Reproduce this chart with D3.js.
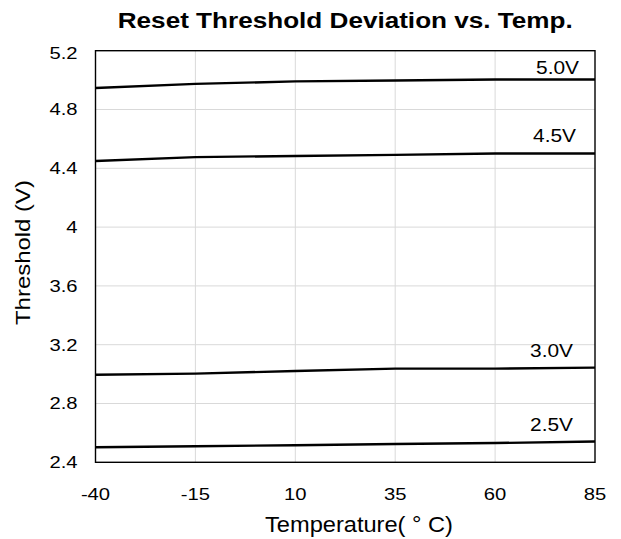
<!DOCTYPE html>
<html>
<head>
<meta charset="utf-8">
<script src="https://cdn.jsdelivr.net/npm/d3@7"></script>
<style>
  body { margin: 0; background: #fff; }
  text { font-family: "Liberation Sans", Arial, sans-serif; fill: #000; }
</style>
</head>
<body>
<div id="chart"></div>
<script>
// data
const temps = [-40, -15, 10, 35, 60, 85];
const xTicks = [-40, -15, 10, 35, 60, 85];
const yTicks = [2.4, 2.8, 3.2, 3.6, 4, 4.4, 4.8, 5.2];
const seriesNames = ['5.0V', '4.5V', '3.0V', '2.5V'];
const v50 = [4.946, 4.974, 4.991, 4.997, 5.004, 5.004];
const v45 = [4.450, 4.476, 4.484, 4.491, 4.501, 4.501];
const v30 = [2.996, 3.003, 3.021, 3.037, 3.037, 3.044];
const v25 = [2.502, 2.509, 2.516, 2.524, 2.531, 2.541];
const seriesValues = [v50, v45, v30, v25];

const width = 621, height = 539;
const margin = {left: 95.5, right: 26, top: 50.7, bottom: 76.7};
const stretch = 1.19; // the text in the picture is a bit wide

const svg = d3.select('#chart').append('svg')
  .attr('width', width)
  .attr('height', height);

const x = d3.scaleLinear().domain([-40, 85]).range([margin.left, width - margin.right]);
const y = d3.scaleLinear().domain([2.4, 5.2]).range([height - margin.bottom, margin.top]);

// grid
svg.append('g').selectAll('line')
  .data(xTicks.slice(1, -1))
  .enter().append('line')
  .attr('x1', d => x(d)).attr('x2', d => x(d))
  .attr('y1', y(2.4)).attr('y2', y(5.2))
  .attr('stroke', '#d9d9d9').attr('stroke-width', 1);

svg.append('g').selectAll('line')
  .data(yTicks.slice(1, -1))
  .enter().append('line')
  .attr('x1', x(-40)).attr('x2', x(85))
  .attr('y1', d => y(d)).attr('y2', d => y(d))
  .attr('stroke', '#d9d9d9').attr('stroke-width', 1);

// frame
svg.append('rect')
  .attr('x', x(-40)).attr('y', y(5.2))
  .attr('width', x(85) - x(-40)).attr('height', y(2.4) - y(5.2))
  .attr('fill', 'none').attr('stroke', '#000').attr('stroke-width', 1.4);

// tick labels
svg.append('g').selectAll('text')
  .data(yTicks)
  .enter().append('text')
  .attr('transform', d => 'translate(' + (x(-40) - 18) + ',' + (y(d) + (d === 5.2 ? 2 : 0)) + ') scale(' + stretch + ',1)')
  .attr('dy', '0.35em')
  .attr('text-anchor', 'end')
  .style('font-size', '17px')
  .text(d => d3.format('')(d));

svg.append('g').selectAll('text')
  .data(xTicks)
  .enter().append('text')
  .attr('transform', d => 'translate(' + x(d) + ',' + (y(2.4) + 38) + ') scale(' + stretch + ',1)')
  .attr('text-anchor', 'middle')
  .style('font-size', '17px')
  .text(d => d);

// lines
const line = d3.line()
  .x((d, i) => x(temps[i]))
  .y(d => y(d));

svg.append('g').selectAll('path')
  .data(seriesValues)
  .enter().append('path')
  .attr('d', line)
  .attr('fill', 'none')
  .attr('stroke', '#000')
  .attr('stroke-width', 2.4);

// series labels
svg.append('g').selectAll('text')
  .data(seriesNames)
  .enter().append('text')
  .attr('transform', (d, i) => {
    const right = i === 0 ? 579 : (i === 1 ? 576 : 573);
    const gap = i === 0 ? 6 : 11;
    return 'translate(' + right + ',' + (y(seriesValues[i][5]) - gap) + ') scale(1.16,1)';
  })
  .attr('text-anchor', 'end')
  .style('font-size', '18px')
  .text(d => d);

// titles
svg.append('text')
  .attr('x', (x(-40) + x(85)) / 2)
  .attr('y', 28.3)
  .attr('text-anchor', 'middle')
  .attr('textLength', 455)
  .attr('lengthAdjust', 'spacingAndGlyphs')
  .style('font-size', '22px')
  .style('font-weight', 'bold')
  .text('Reset Threshold Deviation vs. Temp.');

svg.append('text')
  .attr('transform', 'translate(30,252.5) rotate(-90)')
  .attr('text-anchor', 'middle')
  .attr('textLength', 145)
  .attr('lengthAdjust', 'spacingAndGlyphs')
  .style('font-size', '21px')
  .text('Threshold (V)');

svg.append('text')
  .attr('x', 359)
  .attr('y', 531.7)
  .attr('text-anchor', 'middle')
  .attr('textLength', 188)
  .attr('lengthAdjust', 'spacingAndGlyphs')
  .style('font-size', '22px')
  .text('Temperature( \u00b0 C)');
</script>
</body>
</html>
